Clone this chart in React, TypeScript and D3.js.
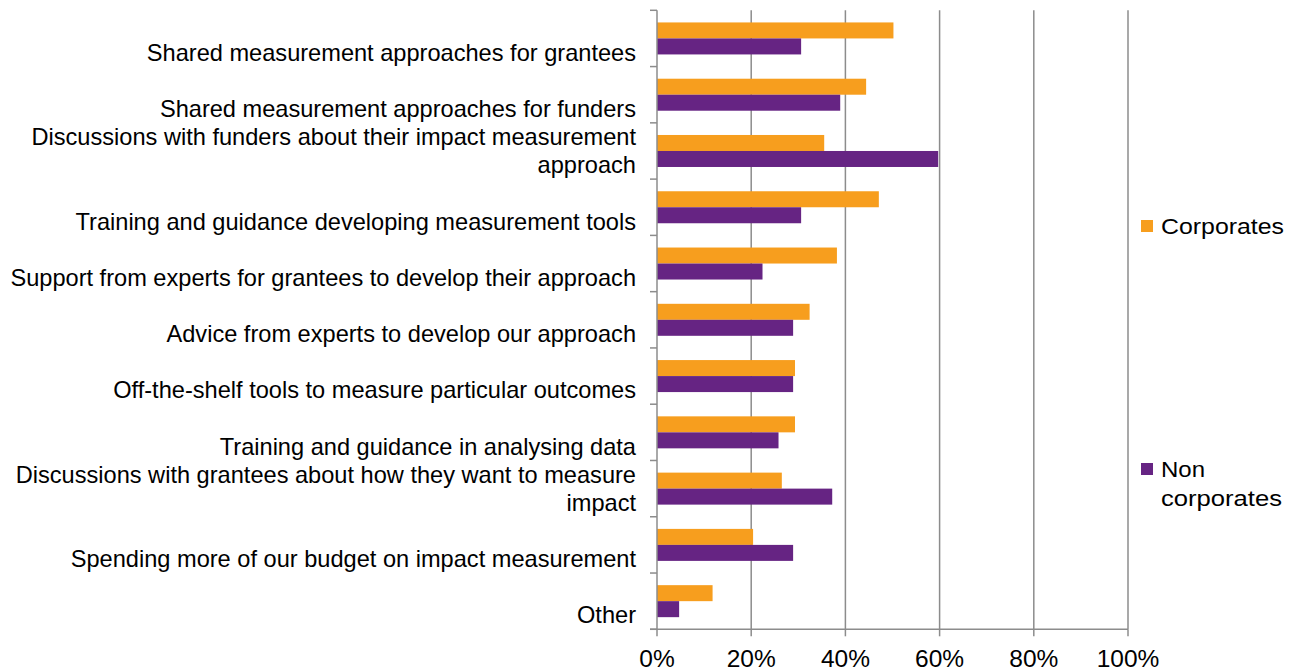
import React from "react";
import * as d3 from "d3";

const categories: string[][] = [
  ["Shared measurement approaches for grantees"],
  ["Shared measurement approaches for funders"],
  ["Discussions with funders about their impact measurement", "approach"],
  ["Training and guidance developing measurement tools"],
  ["Support from experts for grantees to develop their approach"],
  ["Advice from experts to develop our approach"],
  ["Off-the-shelf tools to measure particular outcomes"],
  ["Training and guidance in analysing data"],
  ["Discussions with grantees about how they want to measure", "impact"],
  ["Spending more of our budget on impact measurement"],
  ["Other"],
];
const corporates: number[] = [50.2, 44.4, 35.5, 47.1, 38.2, 32.4, 29.3, 29.3, 26.5, 20.4, 11.8];
const nonCorporates: number[] = [30.6, 38.9, 59.7, 30.6, 22.4, 28.9, 28.9, 25.8, 37.2, 28.9, 4.7];
const xTicks: number[] = [0, 20, 40, 60, 80, 100];
const seriesNames: string[] = ["Corporates", "Non corporates"];

const ORANGE = "#F79E1E";
const PURPLE = "#662483";
const GRID = "#8C8C8C";
const FONT = "'Liberation Sans', Arial, sans-serif";

export default function App() {
  const W = 1302, H = 669;
  const left = 657, right = 1128, top = 10.3, bottom = 629.3;
  const x = d3.scaleLinear().domain([0, 100]).range([left, right]);
  const idx = categories.map((_, i) => i);
  const y = d3.scaleBand<number>().domain(idx).range([top, bottom]).paddingInner(0).paddingOuter(0);
  const bw = y.bandwidth();
  const barH = 16;
  const groupOff = (bw - 2 * barH) / 2;

  return (
    <svg width={W} height={H} style={{ position: "absolute", left: 0, top: 0, background: "#fff" }} fontFamily={FONT}>
      {xTicks.slice(1).map((t) => (
        <line key={"g" + t} x1={x(t)} x2={x(t)} y1={top} y2={bottom} stroke={GRID} strokeWidth={1.5} />
      ))}
      {idx.map((i) => (
        <g key={"b" + i}>
          <rect x={x(0)} y={(y(i) as number) + groupOff} width={x(corporates[i]) - x(0)} height={barH} fill={ORANGE} />
          <rect x={x(0)} y={(y(i) as number) + groupOff + barH} width={x(nonCorporates[i]) - x(0)} height={barH} fill={PURPLE} />
        </g>
      ))}
      <line x1={left} x2={left} y1={top} y2={bottom} stroke={GRID} strokeWidth={1.5} />
      {d3.range(categories.length + 1).map((k) => {
        const yy = top + k * bw;
        return <line key={"yt" + k} x1={left - 7} x2={left} y1={yy} y2={yy} stroke={GRID} strokeWidth={1.5} />;
      })}
      <line x1={left - 7} x2={right} y1={bottom} y2={bottom} stroke={GRID} strokeWidth={1.5} />
      {xTicks.map((t) => (
        <g key={"xt" + t}>
          <line x1={x(t)} x2={x(t)} y1={bottom} y2={bottom + 7} stroke={GRID} strokeWidth={1.5} />
          <text x={x(t)} y={667} textAnchor="middle" fontSize={24.5} fill="#000">{t + "%"}</text>
        </g>
      ))}
      {categories.map((lines, i) => {
        const c = (y(i) as number) + bw / 2;
        const ys = lines.length === 1 ? [c + 14] : [c - 14, c + 14];
        return lines.map((ln, j) => (
          <text key={"l" + i + "-" + j} x={636} y={ys[j]} dy="0.35em" textAnchor="end" fontSize={23.6} fill="#000">{ln}</text>
        ));
      })}
      <rect x={1141} y={220} width={12} height={12} fill={ORANGE} />
      <text x={1161} y={226} dy="0.35em" fontSize={22} textLength={123} lengthAdjust="spacingAndGlyphs" fill="#000">{seriesNames[0]}</text>
      <rect x={1141} y={463} width={12} height={12} fill={PURPLE} />
      <text x={1161} y={469} dy="0.35em" fontSize={22} textLength={44} lengthAdjust="spacingAndGlyphs" fill="#000">Non</text>
      <text x={1161} y={498} dy="0.35em" fontSize={22} textLength={121} lengthAdjust="spacingAndGlyphs" fill="#000">corporates</text>
    </svg>
  );
}
